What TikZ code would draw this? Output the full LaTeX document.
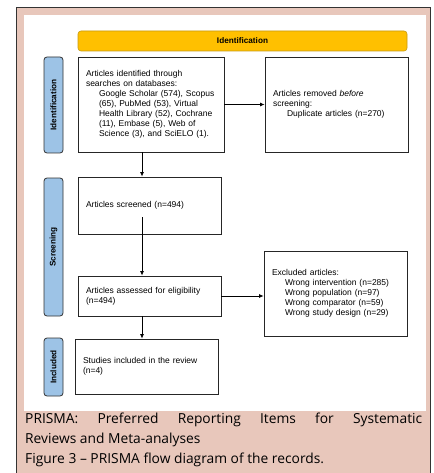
\documentclass[tikz,border=0pt]{standalone}
\usepackage{fontspec}
\setmainfont{Liberation Sans}
\newfontfamily\capfont{Open Sans}
\usetikzlibrary{arrows.meta,calc}
\definecolor{pinkbg}{HTML}{E8C7BB}
\definecolor{barblue}{HTML}{9DC3E6}
\definecolor{bannerorange}{HTML}{FFC000}
\definecolor{bannerline}{HTML}{C89B10}
\begin{document}
\begin{tikzpicture}[x=1pt,y=-1pt,
  box/.style={draw=black!85, line width=0.8pt, fill=white, inner xsep=8pt, inner ysep=0pt,
    align=left, font=\fontsize{8.5}{10}\selectfont},
  sidebar/.style={draw=black!80, fill=barblue, line width=0.8pt, rounded corners=3pt,
    inner sep=0pt, minimum height=19pt, rotate=90, font=\bfseries\fontsize{8.2}{10}\selectfont},
  banner/.style={draw=bannerline, fill=bannerorange, line width=0.6pt, rounded corners=3pt,
    inner sep=0pt, font=\bfseries\fontsize{8.2}{10}\selectfont},
  arr/.style={draw=black, line width=0.8pt, -{Latex[length=4.5pt,width=4pt]}},
  caption/.style={anchor=north west, text width=397pt, align=justify, inner sep=0pt,
    font=\capfont\fontsize{13.8}{20}\selectfont}]
\useasboundingbox (0,0) rectangle (433,473);
% frame
\path[fill=pinkbg, draw=black!80, line width=1pt] (16.5,7.5) rectangle (430,490);
\path[fill=white] (24,15) rectangle (426,411);
% banner
\node[banner, minimum width=329pt, minimum height=20pt] (ban) at (242.5,41) {Identification};
% side bars
\node[sidebar, minimum width=96pt] (sid) at (53.5,105) {Identification};
\node[sidebar, minimum width=138pt] (sscr) at (53.5,247) {Screening};
\node[sidebar, minimum width=58pt] (sinc) at (53.5,367) {Included};
% boxes
\node[box, text width=130pt, minimum height=95pt] (b1) at (151,104.5)
  {Articles identified through\\searches on databases:\\
   \hspace*{13pt}Google Scholar (574), Scopus\\
   \hspace*{13pt}(65), PubMed (53), Virtual\\
   \hspace*{13pt}Health Library (52), Cochrane\\
   \hspace*{13pt}(11), Embase (5), Web of\\
   \hspace*{13pt}Science (3), and SciELO (1).};
\node[box, text width=127pt, minimum height=95pt] (b2) at (336.5,104.5)
  {Articles removed \emph{before}\\screening:\\
   \hspace*{14pt}Duplicate articles (n=270)};
\node[box, text width=127pt, minimum height=57pt] (b3) at (149.5,205.5)
  {Articles screened (n=494)};
\node[box, text width=127pt, minimum height=40pt] (b4) at (149.5,296)
  {Articles assessed for eligibility\\(n=494)};
\node[box, text width=127pt, minimum height=85pt] (b5) at (335.5,293.5)
  {Excluded articles:\\
   \hspace*{13pt}Wrong intervention (n=285)\\
   \hspace*{13pt}Wrong population (n=97)\\
   \hspace*{13pt}Wrong comparator (n=59)\\
   \hspace*{13pt}Wrong study design (n=29)};
\node[box, text width=127pt, minimum height=55pt] (b6) at (146.5,366.5)
  {Studies included in the review\\(n=4)};
% connectors
\coordinate (ax) at (142,0);
\draw[arr] (b1.east) -- (b1.east -| b2.west);
\draw[arr] (b1.south -| ax) -- (b3.north -| ax);
\draw[arr] ($(b3.south -| ax)+(0,-17)$) -- (b4.north -| ax);
\draw[arr] (b4.east) -- (b4.east -| b5.west);
\draw[arr] (b4.south -| ax) -- (b6.north -| ax);
% caption
\node[caption] (cap) at (25,413)
  {PRISMA: Preferred Reporting Items for Systematic\linebreak
   Reviews and Meta-analyses\\
   Figure 3 – PRISMA flow diagram of the records.};
\end{tikzpicture}
\end{document}
